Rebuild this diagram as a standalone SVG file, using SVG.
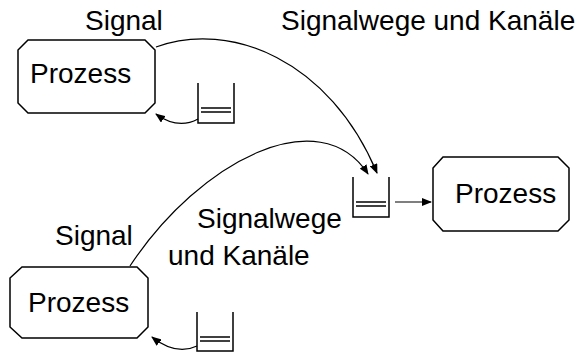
<svg xmlns="http://www.w3.org/2000/svg" width="581" height="355" viewBox="0 0 581 355">
<defs>
<style>
.box{fill:#fff;stroke:#000;stroke-width:1.5}
.cont{fill:none;stroke:#000;stroke-width:1.5}
.conn{fill:none;stroke:#000;stroke-width:1.2}
text{font-family:"Liberation Sans",Arial,sans-serif;font-size:28px;fill:#000}
</style>
<marker id="ah" markerWidth="10" markerHeight="8" refX="9" refY="4" orient="auto" markerUnits="userSpaceOnUse">
<path d="M0,0 L10,4 L0,8 Z" fill="#000"/>
</marker>
</defs>
<g id="labels">
<text x="85" y="30">Signal</text>
<text x="281" y="30">Signalwege und Kanäle</text>
<text x="55" y="245">Signal</text>
<text x="197" y="228">Signalwege</text>
<text x="168" y="265">und Kanäle</text>
</g>
<g id="prozess1">
<polygon class="box" points="28,40 145,40 155,50 155,103 145,113 28,113 18,103 18,50"/>
<text x="30" y="83">Prozess</text>
</g>
<g id="prozess2">
<polygon class="box" points="443,157 558,157 569,168 569,220 558,231 443,231 433,220 433,168"/>
<text x="455" y="203">Prozess</text>
</g>
<g id="prozess3">
<polygon class="box" points="22,267 137,267 148,278 148,327 137,338 22,338 10,327 10,278"/>
<text x="28" y="312">Prozess</text>
</g>
<g id="kanal1">
<path class="cont" d="M198,83 V123 H234 V83"/>
<line class="cont" x1="201" y1="108" x2="231" y2="108"/>
<line class="cont" x1="201" y1="112" x2="231" y2="112"/>
</g>
<g id="kanal2">
<path class="cont" d="M353,177 V217 H389 V177"/>
<line class="cont" x1="356" y1="202" x2="386" y2="202"/>
<line class="cont" x1="356" y1="206" x2="386" y2="206"/>
</g>
<g id="kanal3">
<path class="cont" d="M197,312 V351 H233 V312"/>
<line class="cont" x1="200" y1="337" x2="230" y2="337"/>
<line class="cont" x1="200" y1="341" x2="230" y2="341"/>
</g>
<g id="connectors">
<path class="conn" d="M156,47 C230,20 330,60 377,173" marker-end="url(#ah)"/>
<path class="conn" d="M130,266 C200,160 320,100 368,174" marker-end="url(#ah)"/>
<path class="conn" d="M198,119 Q178,130 156,114" marker-end="url(#ah)"/>
<path class="conn" d="M197,346 Q176,356 152,337" marker-end="url(#ah)"/>
<line class="conn" x1="395" y1="202" x2="431" y2="202" marker-end="url(#ah)"/>
</g>
</svg>
